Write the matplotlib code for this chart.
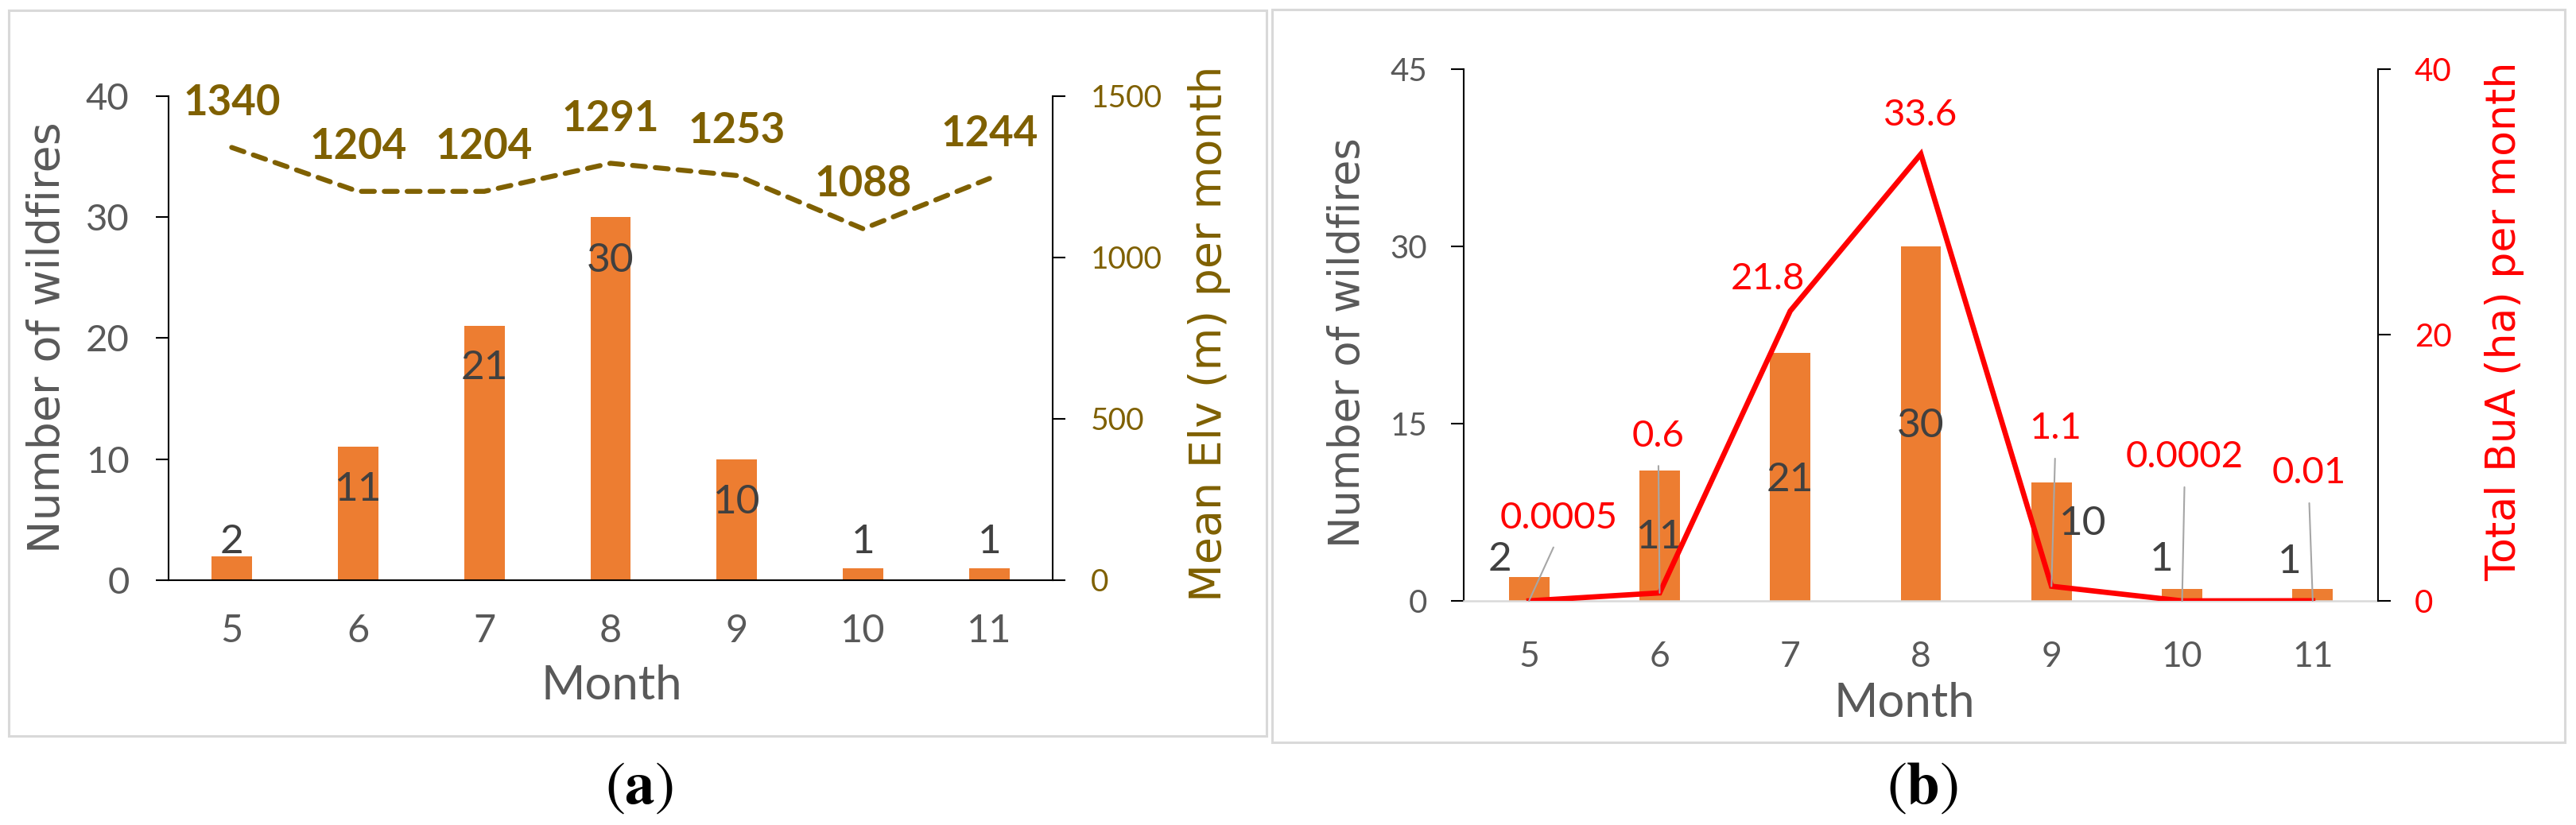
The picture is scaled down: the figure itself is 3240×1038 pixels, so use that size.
import matplotlib
matplotlib.use('Agg')
import matplotlib.pyplot as plt
from matplotlib.patches import Rectangle
from matplotlib import font_manager as fm

# ---------------- data ----------------
months = ['5', '6', '7', '8', '9', '10', '11']
wildfires = [2, 11, 21, 30, 10, 1, 1]
mean_elv = [1340, 1204, 1204, 1291, 1253, 1088, 1244]
total_bua = [0.0005, 0.6, 21.8, 33.6, 1.1, 0.0002, 0.01]
bua_labels = ['0.0005', '0.6', '21.8', '33.6', '1.1', '0.0002', '0.01']

# ---------------- label placement (layout only) ----------------
a_bar_label_y = [3.15, 7.5, 17.5, 26.4, 6.4, 3.15, 3.15]
b_bar_label_pos = [(-0.22, 3.5), (1.0, 5.35), (2.0, 10.2), (3.0, 14.8),
                   (4.24, 6.55), (4.84, 3.5), (5.82, 3.3)]
b_line_label_pos = [(0.23, 6.2), (0.99, 12.4), (1.83, 24.2), (3.0, 36.5),
                    (4.03, 12.95), (5.02, 10.8), (5.97, 9.6)]
b_leader = [True, True, False, False, True, True, True]

available = {f.name for f in fm.fontManager.ttflist}
NUM = 'Lato' if 'Lato' in available else 'DejaVu Sans'
LAB = 'DejaVu Sans'
plt.rcParams['mathtext.fontset'] = 'stix'

ORANGE = '#ED7D31'
OLIVE = '#7F6000'
GRAY = '#595959'
DARK = '#404040'
RED = '#FF0000'

W, H = 3241, 1038
fig = plt.figure(figsize=(W / 100, H / 100), dpi=100)


def fx(px):
    return px / W


def fy(py):
    return 1 - py / H


# panel borders
for (x0, y0, x1, y1) in [(11, 13, 1593, 926), (1600, 12, 3226, 934)]:
    fig.add_artist(Rectangle((fx(x0), fy(y1)), fx(x1 - x0), (y1 - y0) / H,
                             transform=fig.transFigure, fill=False,
                             ec='#D9D9D9', lw=2.2))

x = list(range(len(months)))

# ================= panel (a) =================
ax = fig.add_axes([fx(212), fy(730), fx(1324 - 212), (730 - 120.5) / H])
ax.bar(x, wildfires, width=0.32, color=ORANGE, zorder=2)
ax.set_xlim(-0.5, 6.5)
ax.set_ylim(0, 40)
ax.set_yticks([0, 10, 20, 30, 40])
ax.set_xticks(x)
ax.set_xticklabels(months)
for s in ['top', 'right']:
    ax.spines[s].set_visible(False)
for s in ['left', 'bottom']:
    ax.spines[s].set_color('black')
    ax.spines[s].set_linewidth(1.5)
ax.tick_params(axis='y', direction='out', length=11.5, width=1.5, pad=24,
               labelsize=34, labelcolor=GRAY, color='black')
ax.tick_params(axis='x', length=0, pad=30, labelsize=35, labelcolor=GRAY)
for lab in ax.get_xticklabels() + ax.get_yticklabels():
    lab.set_family(NUM)
for i, v in enumerate(wildfires):
    ax.text(i, a_bar_label_y[i], str(v), ha='center', va='center',
            fontsize=37, color=DARK, family=NUM, zorder=3)

ax2 = ax.twinx()
ax2.plot(x, mean_elv, color=OLIVE, lw=4.5, ls=(0, (2.6, 2.0)),
         dash_capstyle='round')
ax2.set_ylim(0, 1500)
ax2.set_yticks([0, 500, 1000, 1500])
for s in ['top', 'left', 'bottom']:
    ax2.spines[s].set_visible(False)
ax2.spines['right'].set_color('black')
ax2.spines['right'].set_linewidth(1.5)
ax2.tick_params(axis='y', direction='out', length=11.5, width=1.5, pad=23,
                labelsize=28, labelcolor=OLIVE, color='black')
for lab in ax2.get_yticklabels():
    lab.set_family(NUM)
for i, v in enumerate(mean_elv):
    ax2.annotate(str(v), (i, v), xytext=(0, 40.3), textcoords='offset points',
                 ha='center', va='center', fontsize=38, fontweight='bold',
                 color=OLIVE, family=NUM)

fig.text(fx(60), fy(425), 'Number of wildfires', rotation=90, ha='center',
         va='center', fontsize=40, color=GRAY, family=LAB)
fig.text(fx(1521), fy(420), 'Mean Elv (m) per month', rotation=90,
         ha='center', va='center', fontsize=40, color=OLIVE, family=LAB)
fig.text(fx(769.5), fy(863.5), 'Month', ha='center', va='center',
         fontsize=43, color=GRAY, family=NUM)
fig.text(fx(804), fy(990), r'$(\mathbf{a})$', ha='center', va='center',
         fontsize=54, color='black')

# ================= panel (b) =================
bx = fig.add_axes([fx(1841), fy(756), fx(2991 - 1841), (756 - 86.7) / H])
bx.bar(x, wildfires, width=0.31, color=ORANGE, zorder=2)
bx.set_xlim(-0.5, 6.5)
bx.set_ylim(0, 45)
bx.set_yticks([0, 15, 30, 45])
bx.set_xticks(x)
bx.set_xticklabels(months)
for s in ['top', 'right']:
    bx.spines[s].set_visible(False)
bx.spines['left'].set_color('black')
bx.spines['left'].set_linewidth(1.5)
bx.spines['bottom'].set_color('#D9D9D9')
bx.spines['bottom'].set_linewidth(1.8)
bx.tick_params(axis='y', direction='out', length=11.5, width=1.5, pad=21.5,
               labelsize=29, labelcolor=GRAY, color='black')
bx.tick_params(axis='x', length=0, pad=36, labelsize=32, labelcolor=GRAY)
for lab in bx.get_xticklabels() + bx.get_yticklabels():
    lab.set_family(NUM)
for i, v in enumerate(wildfires):
    px_, py_ = b_bar_label_pos[i]
    bx.text(px_, py_, str(v), ha='center', va='center', fontsize=37,
            color=DARK, family=NUM, zorder=3)

bx2 = bx.twinx()
bx2.plot(x, total_bua, color=RED, lw=4.8, solid_joinstyle='miter')
bx2.set_ylim(0, 40)
bx2.set_yticks([0, 20, 40])
for s in ['top', 'left', 'bottom']:
    bx2.spines[s].set_visible(False)
bx2.spines['right'].set_color('black')
bx2.spines['right'].set_linewidth(1.5)
bx2.tick_params(axis='y', direction='out', length=11.5, width=1.5, pad=21.5,
                labelsize=29, labelcolor=RED, color='black')
for lab in bx2.get_yticklabels():
    lab.set_family(NUM)
for i, v in enumerate(total_bua):
    lx, ly = b_line_label_pos[i]
    kw = dict(ha='center', va='center', fontsize=34, color=RED, family=NUM,
              textcoords='data')
    if b_leader[i]:
        kw['arrowprops'] = dict(arrowstyle='-', color='#A6A6A6', lw=1.5,
                                shrinkA=10, shrinkB=0, relpos=(0.5, 0))
    bx2.annotate(bua_labels[i], xy=(i, v), xytext=(lx, ly), **kw)

fig.text(fx(1695), fy(431.5), 'Number of wildfires', rotation=90,
         ha='center', va='center', fontsize=38, color=GRAY, family=LAB)
fig.text(fx(3150), fy(404), 'Total BuA (ha) per month', rotation=90,
         ha='center', va='center', fontsize=37.5, color=RED, family=LAB)
fig.text(fx(2395.6), fy(885), 'Month', ha='center', va='center',
         fontsize=43, color=GRAY, family=NUM)
fig.text(fx(2418), fy(990), r'$(\mathbf{b})$', ha='center', va='center',
         fontsize=54, color='black')

fig.savefig('out.png', dpi=100, facecolor='white')
